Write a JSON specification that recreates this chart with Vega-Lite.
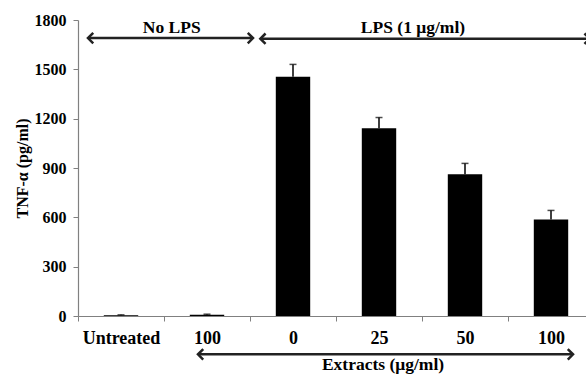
{
  "$schema": "https://vega.github.io/schema/vega-lite/v6.json",
  "autosize": "none",
  "width": 508,
  "height": 296,
  "padding": {"left": 78, "top": 20, "right": 0, "bottom": 59},
  "config": {"view": {"stroke": null}, "font": "Liberation Serif"},
  "datasets": {
    "bars": [
      {"key": "u", "tnf": 5, "upper": 7},
      {"key": "n100", "tnf": 8, "upper": 11},
      {"key": "l0", "tnf": 1455, "upper": 1530},
      {"key": "l25", "tnf": 1142, "upper": 1207},
      {"key": "l50", "tnf": 862, "upper": 928},
      {"key": "l100", "tnf": 587, "upper": 642}
    ],
    "notes": [
      {"label": "No LPS", "start": 0.116, "end": 2.035, "yv": 1690, "tx": 1.09, "ty": 1752},
      {"label": "LPS (1 μg/ml)", "start": 2.12, "end": 5.95, "yv": 1686, "tx": 3.895, "ty": 1750},
      {"label": "Extracts (μg/ml)", "start": 1.395, "end": 5.756, "yv": -233, "tx": 3.547, "ty": -300}
    ]
  },
  "resolve": {"scale": {"x": "independent"}},
  "layer": [
    {
      "data": {"name": "bars"},
      "mark": {"type": "bar", "color": "#000000", "width": {"band": 0.4}},
      "encoding": {
        "x": {
          "field": "key", "type": "nominal", "sort": null,
          "scale": {"range": [0, 516], "paddingInner": 0, "paddingOuter": 0},
          "axis": {
            "title": null, "labelAngle": 0, "tickBand": "extent",
            "labelExpr": "{'u':'Untreated','n100':'100','l0':'0','l25':'25','l50':'50','l100':'100'}[datum.value]",
            "labelFont": "Liberation Serif", "labelFontWeight": "bold", "labelFontSize": 18, "labelColor": "#000000",
            "labelPadding": 8, "tickSize": 5, "tickColor": "#808080", "domainColor": "#808080", "domainWidth": 1.2
          }
        },
        "y": {
          "field": "tnf", "type": "quantitative",
          "scale": {"domain": [0, 1800]},
          "axis": {
            "title": "TNF-α (pg/ml)", "values": [0, 300, 600, 900, 1200, 1500, 1800], "grid": false, "format": "d",
            "labelFont": "Liberation Serif", "labelFontWeight": "bold", "labelFontSize": 16, "labelColor": "#000000",
            "labelPadding": 7, "tickSize": 5, "tickColor": "#808080", "domainColor": "#808080", "domainWidth": 1.2,
            "titleFont": "Liberation Serif", "titleFontWeight": "bold", "titleFontSize": 16, "titleColor": "#000000",
            "titlePadding": 4
          }
        }
      }
    },
    {
      "data": {"name": "bars"},
      "mark": {"type": "rule", "color": "#000000", "strokeWidth": 1.5},
      "encoding": {
        "x": {"field": "key", "type": "nominal", "sort": null, "scale": {"range": [0, 516], "paddingInner": 0, "paddingOuter": 0}, "axis": null},
        "y": {"field": "tnf", "type": "quantitative", "scale": {"domain": [0, 1800]}},
        "y2": {"field": "upper"}
      }
    },
    {
      "data": {"name": "bars"},
      "mark": {"type": "tick", "color": "#000000", "size": 7, "thickness": 1.5, "orient": "horizontal"},
      "encoding": {
        "x": {"field": "key", "type": "nominal", "sort": null, "scale": {"range": [0, 516], "paddingInner": 0, "paddingOuter": 0}, "axis": null},
        "y": {"field": "upper", "type": "quantitative", "scale": {"domain": [0, 1800]}}
      }
    },
    {
      "data": {"name": "notes"},
      "mark": {"type": "rule", "color": "#222222", "strokeWidth": 2.5},
      "encoding": {
        "x": {"field": "start", "type": "quantitative", "scale": {"domain": [0, 6], "range": [0, 516], "nice": false, "zero": false}, "axis": null},
        "x2": {"field": "end"},
        "y": {"field": "yv", "type": "quantitative", "scale": {"domain": [0, 1800]}}
      }
    },
    {
      "data": {"name": "notes"},
      "mark": {"type": "point", "shape": "M1,-1L0,0L1,1", "filled": false, "color": "#222222", "strokeWidth": 2.5, "size": 110, "opacity": 1},
      "encoding": {
        "x": {"field": "start", "type": "quantitative", "scale": {"domain": [0, 6], "range": [0, 516], "nice": false, "zero": false}, "axis": null},
        "y": {"field": "yv", "type": "quantitative", "scale": {"domain": [0, 1800]}}
      }
    },
    {
      "data": {"name": "notes"},
      "mark": {"type": "point", "shape": "M-1,-1L0,0L-1,1", "filled": false, "color": "#222222", "strokeWidth": 2.5, "size": 110, "opacity": 1},
      "encoding": {
        "x": {"field": "end", "type": "quantitative", "scale": {"domain": [0, 6], "range": [0, 516], "nice": false, "zero": false}, "axis": null},
        "y": {"field": "yv", "type": "quantitative", "scale": {"domain": [0, 1800]}}
      }
    },
    {
      "data": {"name": "notes"},
      "mark": {"type": "text", "font": "Liberation Serif", "fontWeight": "bold", "fontSize": 17.5, "color": "#000000", "baseline": "middle", "align": "center"},
      "encoding": {
        "x": {"field": "tx", "type": "quantitative", "scale": {"domain": [0, 6], "range": [0, 516], "nice": false, "zero": false}, "axis": null},
        "y": {"field": "ty", "type": "quantitative", "scale": {"domain": [0, 1800]}},
        "text": {"field": "label"}
      }
    }
  ]
}
